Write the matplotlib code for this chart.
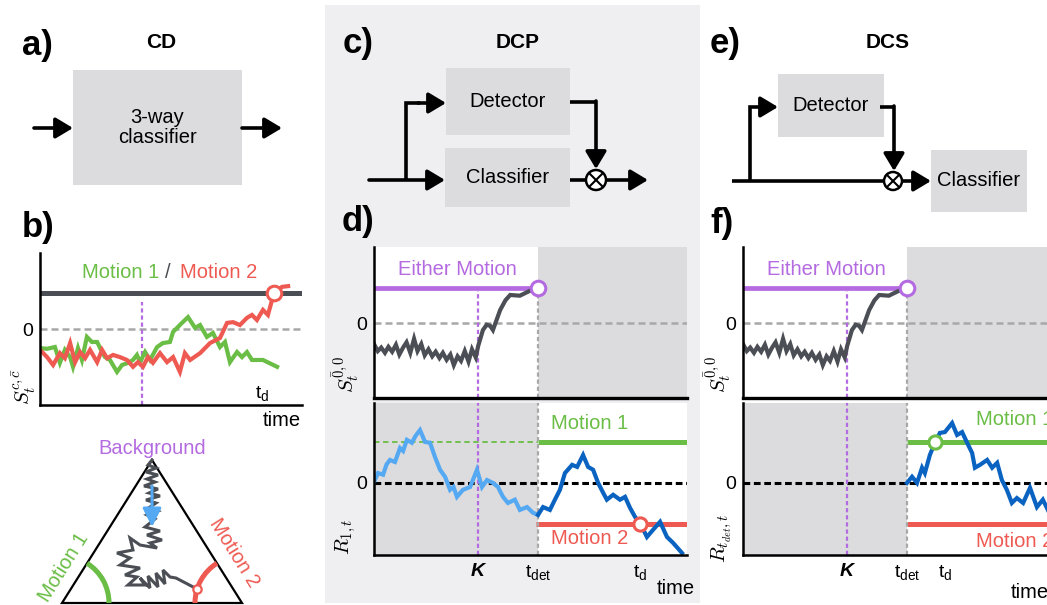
import matplotlib.pyplot as plt
from matplotlib.patches import Rectangle, Circle, Arc, Polygon

plt.rcParams['font.family'] = ['Liberation Sans', 'DejaVu Sans']
plt.rcParams['mathtext.fontset'] = 'custom'
plt.rcParams['mathtext.rm'] = 'Liberation Sans'
plt.rcParams['mathtext.it'] = 'Liberation Sans:italic'
plt.rcParams['mathtext.bf'] = 'Liberation Sans:bold'

W, H = 1047, 605

GREEN = '#6abd45'
RED = '#ee5a52'
PURPLE = '#b46ae0'
DARK = '#4b4f55'
LBLUE = '#55a9f2'
DBLUE = '#0b63c1'
BOX = '#dcdcde'
PANEL = '#efeff1'
SHADE = '#dcdcde'
ZGRAY = '#a8a8a8'

# ---- data (time in 0..100, thresholds at +/-1) ----
# panel b: class statistics
b_green_t = [0, 2.7, 5.7, 7.6, 9.5, 11.5, 12.6, 14.5, 16.0, 17.9, 19.8, 21.8, 23.7, 24.8,
             26.7, 29.4, 31.3, 33.6, 35.5, 37.0, 38.2, 40.1, 42.0, 44.7, 46.9, 49.6, 50.8,
             54.2, 56.5, 59.2, 61.1, 63.7, 66.0, 68.7, 70.6, 72.5, 75.2, 77.1, 79.0, 80.9,
             85.1, 90.5]
b_green_v = [-0.53, -0.55, -0.5, -0.94, -0.58, -0.78, -1.05, -0.53, -0.86, -0.22, -0.36,
             -0.36, -0.64, -0.78, -0.86, -1.19, -1.0, -0.94, -0.86, -0.72, -0.92, -0.64,
             -0.86, -0.5, -0.39, -0.36, -0.08, 0.17, 0.33, 0.03, 0.11, -0.22, -0.11, -0.5,
             -0.36, -0.92, -0.64, -0.78, -0.64, -0.86, -0.86, -1.05]
b_red_t = [0, 2.7, 5.0, 7.6, 9.5, 11.5, 13.4, 15.3, 17.2, 19.1, 21.8, 23.7, 25.6, 27.9,
           30.5, 33.2, 35.5, 37.4, 39.3, 41.2, 43.1, 45.8, 48.5, 50.8, 53.4, 55.3, 57.3,
           61.1, 64.9, 68.7, 71.4, 73.7, 76.3, 79.0, 80.9, 82.8, 85.1, 87.0, 89.3, 92.4, 94.7]
b_red_v = [-0.58, -0.78, -1.0, -0.67, -0.81, -0.39, -0.92, -0.64, -0.81, -0.58, -0.92,
           -0.58, -0.81, -0.72, -0.78, -0.86, -1.05, -0.92, -1.05, -0.78, -0.94, -0.67,
           -0.92, -0.78, -1.19, -0.67, -0.86, -0.67, -0.39, -0.25, 0.17, 0.19, 0.11, 0.31,
           0.39, 0.25, 0.53, 0.39, 1.0, 1.17, 1.19]
b_K = 38.9
b_hit = 89.3
b_td = 84.7

# panels d/f top: detector statistic
s_t = [0, 1.2, 2.3, 3.5, 4.6, 5.8, 7.0, 8.1, 9.3, 10.4, 11.6, 12.8, 13.9, 15.1, 16.2, 17.4,
       18.6, 19.7, 20.9, 22.0, 23.2, 24.4, 25.5, 26.7, 27.8, 29.0, 30.2, 31.3, 32.5, 33.3,
       34.8, 36.0, 37.1, 38.0, 40.3, 42.0, 43.5, 46.6, 49.8, 52.4]
s_v = [-0.6, -0.8, -0.7, -0.85, -0.68, -0.82, -0.62, -0.9, -0.7, -0.55, -0.85, -0.45, -0.8,
       -0.6, -0.92, -0.75, -0.95, -0.82, -1.0, -0.85, -1.05, -0.9, -1.2, -0.95, -1.08, -0.8,
       -1.1, -0.75, -0.98, -0.65, -0.2, -0.05, -0.08, -0.2, 0.37, 0.65, 0.8, 0.78, 0.92, 1.0]
K = 33.2
t_det = 52.4

# panel d bottom: classifier statistic before / after detection
r_pre_t = [0, 1.3, 2.9, 4.0, 5.1, 6.7, 8.3, 9.3, 10.5, 12.1, 13.3, 14.7, 16.3, 17.9, 19.5,
           21.1, 22.7, 24.3, 25.4, 26.5, 28.4, 30.7, 32.9, 34.5, 36.1, 38.0, 39.6, 41.2,
           42.8, 45.0, 46.6, 48.9, 50.8, 52.4]
r_pre_v = [0.02, 0.24, 0.2, 0.45, 0.56, 0.51, 0.85, 0.78, 1.05, 0.98, 1.15, 1.29, 1.0, 0.98,
           0.63, 0.32, 0.15, -0.17, -0.1, -0.34, -0.17, -0.1, 0.32, -0.1, 0.07, 0.0, -0.1,
           -0.34, -0.49, -0.41, -0.66, -0.59, -0.73, -0.78]
r_post_t = [52.4, 54.0, 56.2, 57.8, 59.4, 61.0, 63.3, 64.9, 66.8, 68.4, 70.0, 71.6, 73.2,
            74.4, 76.4, 78.6, 80.2, 81.8, 83.4, 85.0, 87.2, 89.1, 91.4, 93.6, 95.5, 98.4]
r_post_v = [-0.78, -0.59, -0.66, -0.41, -0.17, 0.24, 0.44, 0.39, 0.68, 0.39, 0.32, 0.0,
            -0.24, -0.41, -0.29, -0.41, -0.34, -0.61, -0.83, -0.98, -1.32, -1.15, -0.95,
            -1.32, -1.46, -1.71]
d_td = 85.0

# panel f bottom: classifier started at t_det
rf_t = [52.4, 54.0, 55.6, 57.2, 58.1, 59.7, 61.3, 62.9, 64.5, 66.8, 68.4, 70.0, 71.6, 73.2,
        74.1, 75.7, 78.0, 79.6, 81.2, 82.7, 84.3, 85.9, 87.5, 89.5, 91.7, 93.9, 95.8, 97.4]
rf_v = [0.0, 0.15, 0.0, 0.37, 0.24, 0.68, 0.98, 1.22, 1.24, 1.46, 1.17, 1.24, 0.98, 0.73,
        0.37, 0.44, 0.56, 0.37, 0.49, 0.07, -0.17, -0.49, -0.37, -0.49, -0.12, -0.59, -0.41,
        -0.66]
f_hit = 61.3
f_td = 64.5

# simplex random walk (pixels from the lower-left corner of the triangle)
walk_u = [90, 86, 94, 84, 96, 85, 93, 82, 96, 87, 98, 84, 94, 88, 96, 85, 93, 88,
          83, 98, 85, 100, 88, 95, 78, 68, 71, 55, 68, 58, 78, 63, 75, 66, 83, 78, 88, 86,
          96, 94, 103, 101, 108, 114, 135]
walk_w = [143, 138, 135, 131, 128, 124, 121, 117, 114, 110, 107, 103, 100, 96, 92, 88, 84, 80,
          76, 72, 68, 63, 60, 55, 58, 65, 53, 50, 45, 38, 35, 28, 26, 18, 18, 25, 15, 27,
          16, 30, 19, 33, 26, 25, 14]

fig = plt.figure(figsize=(W / 100, H / 100), dpi=100)

# background panel behind c/d
bg = fig.add_axes([0, 0, 1, 1], zorder=-1)
bg.set_xlim(0, W)
bg.set_ylim(H, 0)
bg.axis('off')
bg.add_patch(Rectangle((325, 5), 375, 598, facecolor=PANEL, edgecolor='none'))


def px_axes(x0, y0, x1, y1, ylim):
    ax = fig.add_axes([x0 / W, 1 - y1 / H, (x1 - x0) / W, (y1 - y0) / H], zorder=1)
    ax.set_xlim(0, 100)
    ax.set_ylim(*ylim)
    for s in ('top', 'right'):
        ax.spines[s].set_visible(False)
    for s in ('left', 'bottom'):
        ax.spines[s].set_linewidth(1.8)
        ax.spines[s].set_color('k')
    ax.set_xticks([])
    ax.set_yticks([0])
    ax.set_yticklabels(['0'])
    ax.tick_params(axis='both', length=0, labelsize=14, pad=5)
    return ax


def dotted_v(ax, x, y0, y1, color):
    ax.vlines(x, y0, y1, colors=color, lw=1.6, linestyles=(0, (1.9, 1.3)))


def detector_axes(x0, label_x):
    ax = px_axes(x0, 247, x0 + 313, 398, (-2.14, 2.17))
    ax.spines['bottom'].set_linewidth(2.4)
    ax.axvspan(t_det, 100, color=SHADE, lw=0)
    ax.axhline(0, color=ZGRAY, lw=1.8, ls=(0, (2.8, 1.6)))
    dotted_v(ax, K, -2.14, 0.9, PURPLE)
    dotted_v(ax, t_det, -2.14, 0.8, ZGRAY)
    ax.hlines(1, 0, t_det, colors=PURPLE, lw=3.4)
    ax.plot(s_t, s_v, color=DARK, lw=3, solid_joinstyle='miter')
    ax.plot([t_det], [1], 'o', ms=10.5, mfc='white', mec=PURPLE, mew=2.2, clip_on=False)
    ax.text(26.6, 1.25, 'Either Motion', color=PURPLE, fontsize=14.5, ha='center', va='bottom')
    ax.text(label_x, 0.03, r'$S_t^{\bar{0},0}$', math_fontfamily='cm', fontsize=15,
            rotation=90, ha='center', va='bottom', transform=ax.transAxes)
    return ax


def set_time_ticks(ax, td):
    ax.set_xticks([K, t_det, td])
    ax.set_xticklabels(['K', r'$\mathrm{t_{det}}$', r'$\mathrm{t_d}$'])
    ax.tick_params(axis='x', pad=6)
    lbl = ax.get_xticklabels()[0]
    lbl.set_fontweight('bold')
    lbl.set_fontstyle('italic')


# ---- panel b ----
axb = px_axes(40, 253, 302, 405, (-2.11, 2.11))
axb.axhline(1, color=DARK, lw=3.6)
axb.axhline(0, color=ZGRAY, lw=1.8, ls=(0, (2.8, 1.6)))
dotted_v(axb, b_K, -2.11, 0.75, PURPLE)
axb.plot(b_green_t, b_green_v, color=GREEN, lw=3, solid_joinstyle='miter')
axb.plot(b_red_t, b_red_v, color=RED, lw=3, solid_joinstyle='miter')
axb.plot([b_hit], [1], 'o', ms=10.5, mfc='white', mec=RED, mew=2.2, zorder=5)
axb.text(b_td, -1.78, r'$\mathrm{t_d}$', fontsize=14, ha='center', va='center')
axb.text(-0.06, 0.0, r'$S_t^{c,\bar{c}}$', math_fontfamily='cm', fontsize=15,
         rotation=90, ha='center', va='bottom', transform=axb.transAxes)

# ---- panel d ----
axd1 = detector_axes(374, -0.092)
axd2 = px_axes(374, 403, 687, 555, (-1.76, 1.95))
axd2.axvspan(0, t_det, color=SHADE, lw=0)
axd2.axhline(0, color='k', lw=2.2, ls=(0, (2.2, 1.2)))
axd2.hlines(1, 0, t_det, colors=GREEN, lw=1.3, linestyles=(0, (3, 2)))
axd2.hlines(1, t_det, 100, colors=GREEN, lw=3.6)
axd2.hlines(-1, t_det - 0.6, 100, colors=RED, lw=3.6)
dotted_v(axd2, K, -1.76, 1.95, PURPLE)
dotted_v(axd2, t_det, -1.76, 1.95, ZGRAY)
axd2.plot(r_pre_t, r_pre_v, color=LBLUE, lw=3, solid_joinstyle='miter')
axd2.plot(r_post_t, r_post_v, color=DBLUE, lw=3, solid_joinstyle='miter')
axd2.plot([d_td], [-1], 'o', ms=9.5, mfc='white', mec=RED, mew=2.2, zorder=5)
axd2.text(69, 1.45, 'Motion 1', color=GREEN, fontsize=14.5, ha='center', va='center')
axd2.text(69, -1.35, 'Motion 2', color=RED, fontsize=14.5, ha='center', va='center')
axd2.text(-0.09, 0.0, r'$R_{1,t}$', math_fontfamily='cm', fontsize=15,
          rotation=90, ha='center', va='bottom', transform=axd2.transAxes)
set_time_ticks(axd2, d_td)

# ---- panel f (runs past the right edge, as in the original) ----
axf1 = detector_axes(743, -0.08)
axf2 = px_axes(743, 403, 1056, 555, (-1.76, 1.95))
axf2.axvspan(0, t_det, color=SHADE, lw=0)
axf2.axhline(0, color='k', lw=2.2, ls=(0, (2.2, 1.2)))
axf2.hlines(1, t_det, 100, colors=GREEN, lw=3.6)
axf2.hlines(-1, t_det, 100, colors=RED, lw=3.6)
dotted_v(axf2, K, -1.76, 1.95, PURPLE)
dotted_v(axf2, t_det, -1.76, 1.95, ZGRAY)
axf2.plot(rf_t, rf_v, color=DBLUE, lw=3, solid_joinstyle='miter')
axf2.plot([f_hit], [1], 'o', ms=9.5, mfc='white', mec=GREEN, mew=2.2, zorder=5)
axf2.text(74.4, 1.55, 'Motion 1', color=GREEN, fontsize=14.5, ha='left', va='center')
axf2.text(74.4, -1.42, 'Motion 2', color=RED, fontsize=14.5, ha='left', va='center')
axf2.text(-0.068, -0.05, r'$R_{t_{det},t}$', math_fontfamily='cm', fontsize=15,
          rotation=90, ha='center', va='bottom', transform=axf2.transAxes)
set_time_ticks(axf2, f_td)

# ---- simplex triangle ----
tri = fig.add_axes([62 / W, 1 - 603 / H, 180 / W, 143 / H], zorder=1)
tri.set_xlim(0, 180)
tri.set_ylim(0, 143)
tri.axis('off')
tri.add_patch(Polygon([(0, 0), (180, 0), (90, 143)], closed=True, fill=False,
                      edgecolor='k', lw=1.6, clip_on=False))
tri.add_patch(Arc((0, 0), 94, 94, theta1=0, theta2=57.8, color=GREEN, lw=3.6, clip_on=False))
tri.add_patch(Arc((180, 0), 94, 94, theta1=122.2, theta2=180, color=RED, lw=3.6, clip_on=False))
tri.plot(walk_u, walk_w, color=DARK, lw=2.2, solid_joinstyle='miter', clip_on=False)
tri.plot([walk_u[-1]], [walk_w[-1]], 'o', ms=6, mfc='white', mec=RED, mew=1.6, clip_on=False)
tri.annotate('', xy=(90, 76), xytext=(90, 117),
             arrowprops=dict(arrowstyle='-|>,head_length=0.8,head_width=0.4', lw=2.2,
                             color=LBLUE, shrinkA=0, shrinkB=0, mutation_scale=14))
tri.text(90, 154, 'Background', color=PURPLE, fontsize=14.5, ha='center', va='center')
tri.text(2, 36, 'Motion 1', color=GREEN, fontsize=14.5, ha='center', va='center',
         rotation=58, rotation_mode='anchor')
tri.text(172, 50, 'Motion 2', color=RED, fontsize=14.5, ha='center', va='center',
         rotation=-58, rotation_mode='anchor')

# ---- diagrams and labels on a pixel canvas ----
cv = fig.add_axes([0, 0, 1, 1], zorder=5)
cv.set_xlim(0, W)
cv.set_ylim(H, 0)
cv.axis('off')
cv.patch.set_facecolor('none')


def box(x0, y0, x1, y1, text):
    cv.add_patch(Rectangle((x0, y0), x1 - x0, y1 - y0, facecolor=BOX, edgecolor='none'))
    cv.text((x0 + x1) / 2, (y0 + y1) / 2, text, fontsize=14.5, ha='center', va='center',
            linespacing=1.1)


def line(xs, ys):
    cv.plot(xs, ys, color='k', lw=2.6, solid_capstyle='butt', solid_joinstyle='miter')


def arrow(x0, y0, x1, y1):
    cv.annotate('', xy=(x1, y1), xytext=(x0, y0),
                arrowprops=dict(arrowstyle='-|>,head_length=0.75,head_width=0.45', lw=2.6,
                                color='k', shrinkA=0, shrinkB=0, mutation_scale=14))


def otimes(x, y, r):
    cv.add_patch(Circle((x, y), r, facecolor='white', edgecolor='k', lw=1.8, zorder=4))
    d = r * 0.68
    cv.plot([x - d, x + d], [y - d, y + d], color='k', lw=1.5, zorder=5)
    cv.plot([x - d, x + d], [y + d, y - d], color='k', lw=1.5, zorder=5)


for lab, x, y in [('a)', 22, 45), ('b)', 22, 228), ('c)', 343, 43), ('d)', 342, 222),
                  ('e)', 710, 43), ('f)', 710, 223)]:
    cv.text(x, y, lab, fontsize=25, fontweight='bold', ha='left', va='center')
for lab, x in [('CD', 161), ('DCP', 518), ('DCS', 888)]:
    cv.text(x, 42, lab, fontsize=15, fontweight='bold', ha='center', va='center')

# a) single classifier
box(73, 70, 242, 185, '3-way\nclassifier')
arrow(34, 128, 73, 128)
arrow(242, 128, 282, 128)

# c) detector + classifier in parallel
box(446, 68, 570, 135, 'Detector')
box(445, 148, 570, 207, 'Classifier')
arrow(369, 180, 445, 180)
line([406, 406, 420], [181, 103, 103])
arrow(418, 103, 446, 103)
line([570, 596], [102, 102])
arrow(596, 101, 596, 169)
line([570, 590], [180, 180])
otimes(596, 180, 10)
arrow(606, 180, 648, 180)

# e) detector then classifier in series
box(778, 74, 884, 137, 'Detector')
box(931, 150, 1027, 212, 'Classifier')
line([732, 886], [181, 181])
line([750, 750, 762], [182, 107, 107])
arrow(760, 107, 778, 107)
line([880, 894], [107, 107])
arrow(894, 106, 894, 171)
otimes(893, 181, 9)
arrow(902, 181, 931, 181)
arrow(1027, 181, 1056, 181)

# free axis captions
cv.text(282, 420, 'time', fontsize=14.5, ha='center', va='center')
cv.text(676, 588, 'time', fontsize=14.5, ha='center', va='center')
cv.text(1030, 592, 'time', fontsize=14.5, ha='center', va='center')
cv.text(121, 273, 'Motion 1', color=GREEN, fontsize=14.5, ha='center', va='center')
cv.text(168, 273, '/', color=DARK, fontsize=14.5, ha='center', va='center')
cv.text(219, 273, 'Motion 2', color=RED, fontsize=14.5, ha='center', va='center')

fig.savefig('out.png', dpi=100, facecolor='white')
